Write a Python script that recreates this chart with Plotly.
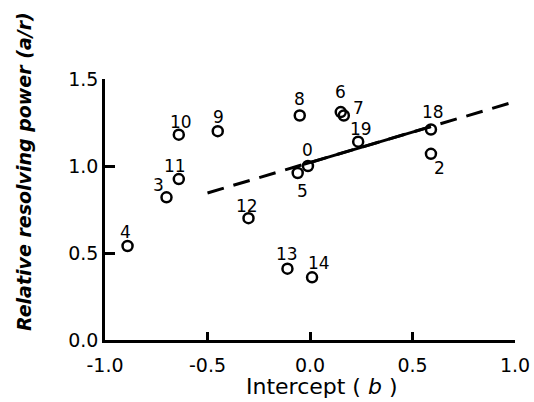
import plotly.graph_objects as go

# Data
point_labels = ["0", "2", "3", "4", "5", "6", "7", "8", "9", "10", "11", "12", "13", "14", "18", "19"]
intercept_b = [-0.01, 0.59, -0.70, -0.89, -0.06, 0.15, 0.165, -0.05, -0.45, -0.64, -0.64, -0.30, -0.11, 0.01, 0.59, 0.235]
resolving_power = [1.00, 1.07, 0.82, 0.54, 0.96, 1.31, 1.29, 1.29, 1.20, 1.18, 0.925, 0.70, 0.41, 0.36, 1.21, 1.14]
# label offsets from their marker, in pixels (style)
label_dx = [0, 9, -8, -2, 5, 0, 15, 0, 1, 2, -4, -2, 0, 7, 2, 3]
label_dy = [-16, 14, -12, -14, 18, -20, -8, -17, -14, -13, -13, -12, -15, -14, -17, -13]

trend_slope = 0.35
trend_intercept = 1.02
dashed_x = [-0.5, 1.0]
solid_x = [-0.03, 0.59]

x_ticks = [-1.0, -0.5, 0.0, 0.5, 1.0]
x_ticklabels = ["-1.0", "-0.5", "0.0", "0.5", "1.0"]
y_ticks = [0.0, 0.5, 1.0, 1.5]
y_ticklabels = ["0.0", "0.5", "1.0", "1.5"]

x_title = "Intercept ( <i>b</i> )"
y_title = "<b><i>Relative resolving power (a/r)</i></b>"

font_family = "DejaVu Sans"

fig = go.Figure()
fig.add_trace(go.Scatter(
    x=dashed_x, y=[trend_intercept + trend_slope * v for v in dashed_x],
    mode="lines", line=dict(color="black", width=3, dash="17px,10px"), showlegend=False))
fig.add_trace(go.Scatter(
    x=solid_x, y=[trend_intercept + trend_slope * v for v in solid_x],
    mode="lines", line=dict(color="black", width=3), showlegend=False))
fig.add_trace(go.Scatter(
    x=intercept_b, y=resolving_power, mode="markers",
    marker=dict(symbol="circle-open", size=10, color="black", line=dict(width=2.5, color="black")),
    showlegend=False, cliponaxis=False))

for lab, xv, yv, dx, dy in zip(point_labels, intercept_b, resolving_power, label_dx, label_dy):
    fig.add_annotation(x=xv, y=yv, text=lab, showarrow=False, xshift=dx, yshift=-dy,
                       font=dict(family=font_family, size=17, color="black"))

fig.add_annotation(xref="paper", yref="paper", x=(322 - 105) / 410, y=(340 - 386) / 261,
                   text=x_title, showarrow=False, xanchor="center", yanchor="middle",
                   font=dict(family=font_family, size=22, color="black"))
fig.add_annotation(xref="paper", yref="paper", x=(24 - 105) / 410, y=(340 - 172) / 261,
                   text=y_title, showarrow=False, textangle=-90, xanchor="center", yanchor="middle",
                   font=dict(family=font_family, size=19, color="black"))

fig.update_layout(
    width=534, height=402,
    margin=dict(l=105, r=19, t=79, b=62, autoexpand=False),
    plot_bgcolor="white", paper_bgcolor="white",
    font=dict(family=font_family, size=18, color="black"),
    xaxis=dict(range=[-1.0, 1.0], tickvals=x_ticks, ticktext=x_ticklabels, automargin=False,
               showline=True, linecolor="black", linewidth=2.5, ticks="inside",
               ticklen=8, tickwidth=2.5, tickcolor="black", showgrid=False, zeroline=False,
               tickfont=dict(size=19), ticklabelstandoff=6),
    yaxis=dict(range=[0.0, 1.5], tickvals=y_ticks, ticktext=y_ticklabels, automargin=False,
               showline=True, linecolor="black", linewidth=2.5, ticks="inside",
               ticklen=10, tickwidth=2.5, tickcolor="black", showgrid=False, zeroline=False,
               tickfont=dict(size=19)),
)

fig.write_html("out.html", config={"displayModeBar": False},
               post_script="document.body.style.margin='0px';")
